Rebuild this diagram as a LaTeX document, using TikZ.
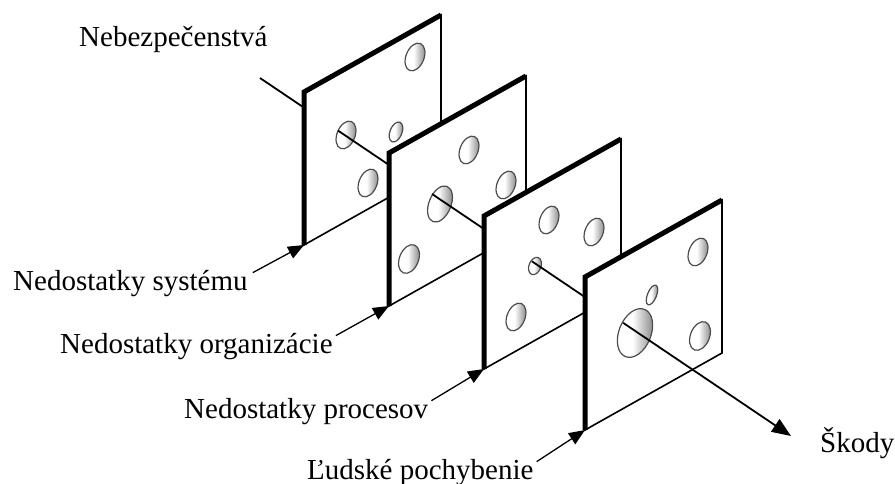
\documentclass[tikz,border=0pt]{standalone}
\usepackage{fontspec}
\setmainfont{Liberation Serif}
\usetikzlibrary{arrows.meta,calc}

% inside of a hole: white, darkening towards its right rim
% (the filled region spans 25bp..75bp of the shading)
\pgfdeclarehorizontalshading{holeshade}{100bp}{color(0bp)=(white); color(25bp)=(white); color(47bp)=(white); color(75bp)=(black!50); color(100bp)=(black!50)}

% one plate of the model: white parallelogram, thin outline, heavy left and top rim
\newcommand\drawplate[3]{%
  \coordinate (#1tl) at (#2,#3);
  \coordinate (#1bl) at (#2,#3+153);
  \coordinate (#1tr) at (#2+137,#3-77);
  \coordinate (#1br) at (#2+137,#3+76);
  \path[plate] (#1tl) -- (#1tr) -- (#1br) -- (#1bl) -- cycle;
  \draw[rim] (#1bl) -- (#1tl) -- (#1tr);
}
% a tilted, shaded hole: centre x, centre y, x radius, y radius
\newcommand\drawhole[4]{%
  \path[hole, rotate around={-22:(#1,#2)}] (#1,#2) ellipse [x radius=#3, y radius=#4];
}

\begin{document}
\begin{tikzpicture}[x=1pt,y=-1pt,
  plate/.style={fill=white, draw=black, line width=1.6pt, line join=miter},
  rim/.style={line width=5pt, line join=miter, line cap=butt},
  hole/.style={draw=black!70, line width=1.2pt, shading=holeshade},
  ray/.style={line width=1.8pt},
  pointer/.style={line width=1.3pt, -{Triangle[length=16pt,width=13pt]}},
  lbl/.style={font=\fontsize{29}{34}\selectfont, inner sep=0pt, anchor=base west}]

\useasboundingbox (0,0) rectangle (895,484);

% path of the hazard through the holes
\coordinate (p0) at (260,78);
\coordinate (p1) at (791,436);
\coordinate (h1) at ($(p0)!0.147!(p1)$);
\coordinate (h2) at ($(p0)!0.324!(p1)$);
\coordinate (h3) at ($(p0)!0.512!(p1)$);
\coordinate (h4) at ($(p0)!0.684!(p1)$);

\draw[ray] (p0) -- (h1);

% plate 1
\drawplate{a}{304}{92}
\drawhole{415}{57}{9}{14.5}
\drawhole{346}{135}{9}{14.5}
\drawhole{396}{132}{6}{10.5}
\drawhole{368}{183}{9}{14.5}
\draw[ray] (h1) -- (h2);

% plate 2
\drawplate{b}{389}{153}
\drawhole{469}{150}{9}{14.5}
\drawhole{506}{185}{9}{14.5}
\drawhole{440}{204}{11}{19}
\drawhole{409}{259}{9.5}{15}
\draw[ray] (h2) -- (h3);

% plate 3
\drawplate{c}{484}{216}
\drawhole{549}{220}{9}{14.5}
\drawhole{594}{232}{9}{14.5}
\drawhole{535}{266}{6}{9}
\drawhole{516}{317}{9}{14.5}
\draw[ray] (h3) -- (h4);

% plate 4
\drawplate{d}{585}{277}
\drawhole{698}{252}{9}{14.5}
\drawhole{652}{295}{4.5}{10.5}
\drawhole{635}{333}{16}{25.5}
\drawhole{700}{336}{9.5}{15}
\draw[ray, -{Triangle[length=19pt,width=15pt]}] (h4) -- (p1);

% labels
\node[lbl] (haz) at (79,47) {Nebezpečenstvá};
\node[lbl] (sys) at (13,290) {Nedostatky systému};
\node[lbl] (org) at (60,353) {Nedostatky organizácie};
\node[lbl] (pro) at (184,418) {Nedostatky procesov};
\node[lbl] (hum) at (307,479) {Ľudské pochybenie};
\node[lbl] (dmg) at (820,452) {Škody};

\draw[pointer] ([shift={(5,3)}]sys.north east) -- (abl);
\draw[pointer] ([shift={(3,3)}]org.north east) -- (bbl);
\draw[pointer] ([shift={(3,3)}]pro.north east) -- (cbl);
\draw[pointer] ([shift={(3,3)}]hum.north east) -- (dbl);

\end{tikzpicture}
\end{document}
